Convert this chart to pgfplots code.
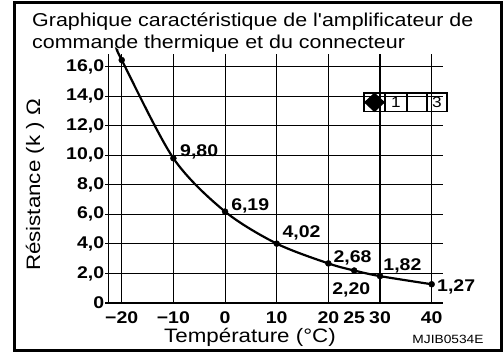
\documentclass[border=0pt]{standalone}
\usepackage{pgfplots}
\pgfplotsset{compat=1.18}
\usepackage{fontspec}
\setmainfont{Liberation Sans}[FakeStretch=1.15, Ligatures=TeXOff]

\begin{document}
\begin{tikzpicture}[x=1bp,y=1bp]
\useasboundingbox (0,0) rectangle (503,352);
% outer frame
\draw[line width=3.5bp] (14.5,1.75) rectangle (501.25,349.5);

% title
\begin{scope}[every node/.style={anchor=base west, inner sep=0, font=\fontsize{18.7}{21}\selectfont}]
\node at (32,325.3) {Graphique caractéristique de l'amplificateur de};
\node at (32,303.7) {commande thermique et du connecteur};
\end{scope}

\begin{axis}[
  at={(108.3bp,49bp)}, anchor=south west,
  scale only axis, width=335bp, height=249bp,
  xmin=-22.6, xmax=42.25, ymin=0, ymax=16.86,
  axis x line*=bottom, axis y line*=left,
  axis line style={-, line width=1.6bp},
  clip=false,
  xtick={-20,-10,0,10,20,30,40},
  xticklabels={−20,−10,0,10,20,30,40},
  extra x ticks={25}, extra x tick labels={25},
  extra x tick style={grid=none},
  ytick={0,2,4,6,8,10,12,14,16},
  yticklabels={0,{2,0},{4,0},{6,0},{8,0},{10,0},{12,0},{14,0},{16,0}},
  grid=major,
  major grid style={black, line width=1.1bp},
  xtick style={draw=none},
  ytick style={black, line width=1.1bp},
  tick align=outside, major tick length=3bp,
  /pgf/number format/assume math mode=true,
  ticklabel style={font=\fontsize{17}{19}\selectfont\bfseries},
  yticklabel style={inner sep=1bp},
  xticklabel style={inner sep=1bp, yshift=-4bp},
  xlabel={Température (°C)},
  ylabel={Résistance (k ) Ω},
  label style={font=\fontsize{19.5}{22}\selectfont},
  xlabel style={at={(axis description cs:0.423,-0.1365)}, anchor=center},
  ylabel style={at={(axis description cs:-0.219,0.474)}, anchor=center},
]
% characteristic curve
\addplot[black, line width=2.2bp, smooth] coordinates {
  (-20.77,17.08) (-20,16.45) (-10,9.80) (0,6.19) (10,4.02)
  (20,2.68) (25,2.20) (30,1.82) (40,1.27)
};
% measured points
\addplot[only marks, mark=*, mark size=3bp, black] coordinates {
  (-20,16.45) (-10,9.80) (0,6.19) (10,4.02)
  (20,2.68) (25,2.20) (30,1.82) (40,1.27)
};
% value labels
\begin{scope}[every node/.style={inner sep=0, anchor=base west, font=\fontsize{17}{19}\selectfont\bfseries}]
\node[xshift=6.6bp, yshift=1.6bp] at (axis cs:-10,9.80) {9,80};
\node[xshift=6bp, yshift=0.6bp] at (axis cs:0,6.19) {6,19};
\node[xshift=5.6bp, yshift=5.9bp] at (axis cs:10,4.02) {4,02};
\node[xshift=5bp, yshift=0.7bp] at (axis cs:20,2.68) {2,68};
\node[xshift=-22bp, yshift=-23.8bp] at (axis cs:25,2.20) {2,20};
\node[xshift=3.2bp, yshift=5.4bp] at (axis cs:30,1.82) {1,82};
\node[xshift=5.3bp, yshift=-7.5bp] at (axis cs:40,1.27) {1,27};
\end{scope}
\end{axis}

% connector pin key
\draw[line width=1.2bp] (364,240.3) rectangle (447,259);
\draw[line width=1.2bp] (385,240.3) -- (385,259) (407,240.3) -- (407,259) (427,240.3) -- (427,259);
\fill (364,249.65) -- (374.5,259.5) -- (385,249.65) -- (374.5,239.8) -- cycle;
\node[font=\fontsize{15}{17}\selectfont, inner sep=0] at (396,249.65) {1};
\node[font=\fontsize{15}{17}\selectfont, inner sep=0] at (437,249.65) {3};

% drawing reference
\node[font=\fontsize{12}{13}\selectfont, inner sep=0] at (448,13) {MJIB0534E};
\end{tikzpicture}
\end{document}
